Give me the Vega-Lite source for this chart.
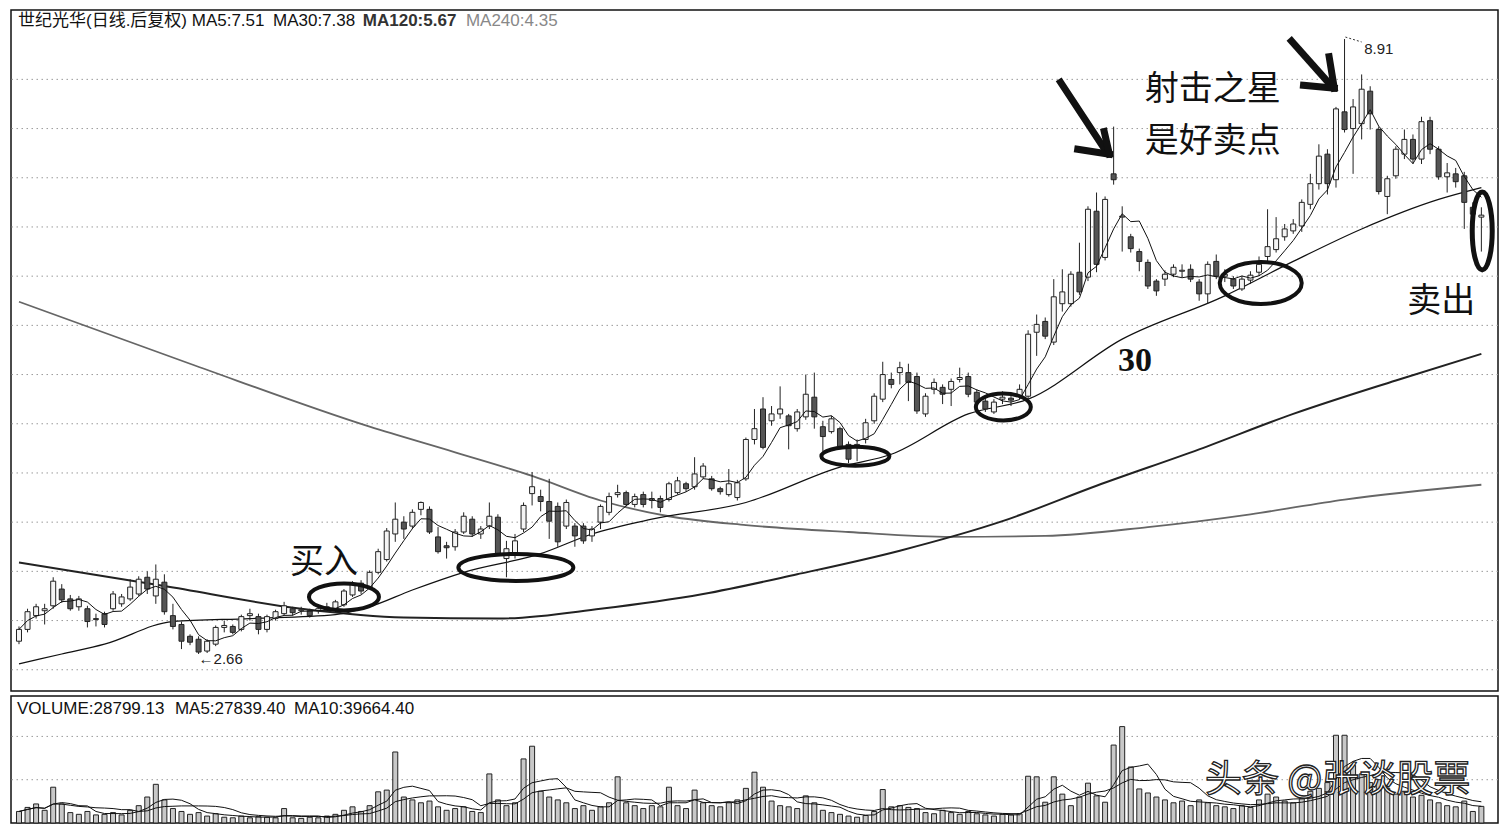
{
  "$schema": "https://vega.github.io/schema/vega-lite/v6.json",
  "background": "#ffffff",
  "padding": {"left": 9, "top": 9, "right": 5, "bottom": 2},
  "spacing": 3,
  "config": {
    "view": {"stroke": "#111", "strokeWidth": 1.5},
    "axis": {"disable": true}
  },
  "datasets": {
    "candles": [
      {"i":0,"o":2.79,"h":2.94,"l":2.76,"c":2.91,"v":20000},
      {"i":1,"o":2.91,"h":3.12,"l":2.88,"c":3.09,"v":27000},
      {"i":2,"o":3.05,"h":3.17,"l":3.02,"c":3.14,"v":33000},
      {"i":3,"o":3.10,"h":3.17,"l":2.96,"c":3.12,"v":22000},
      {"i":4,"o":3.15,"h":3.44,"l":3.12,"c":3.40,"v":62000},
      {"i":5,"o":3.32,"h":3.37,"l":3.18,"c":3.21,"v":33000},
      {"i":6,"o":3.22,"h":3.26,"l":3.10,"c":3.12,"v":18000},
      {"i":7,"o":3.14,"h":3.25,"l":3.10,"c":3.22,"v":15000},
      {"i":8,"o":3.12,"h":3.15,"l":2.93,"c":2.99,"v":20000},
      {"i":9,"o":3.01,"h":3.07,"l":2.94,"c":3.02,"v":14000},
      {"i":10,"o":3.07,"h":3.09,"l":2.93,"c":2.96,"v":15000},
      {"i":11,"o":3.12,"h":3.30,"l":3.10,"c":3.27,"v":18000},
      {"i":12,"o":3.17,"h":3.27,"l":3.14,"c":3.24,"v":14000},
      {"i":13,"o":3.22,"h":3.42,"l":3.20,"c":3.34,"v":22000},
      {"i":14,"o":3.27,"h":3.45,"l":3.25,"c":3.42,"v":30000},
      {"i":15,"o":3.44,"h":3.50,"l":3.27,"c":3.32,"v":45000},
      {"i":16,"o":3.25,"h":3.57,"l":3.17,"c":3.42,"v":67000},
      {"i":17,"o":3.39,"h":3.47,"l":3.06,"c":3.09,"v":40000},
      {"i":18,"o":3.05,"h":3.17,"l":2.91,"c":2.94,"v":25000},
      {"i":19,"o":2.96,"h":2.99,"l":2.71,"c":2.79,"v":20000},
      {"i":20,"o":2.84,"h":2.86,"l":2.75,"c":2.78,"v":15000},
      {"i":21,"o":2.81,"h":2.84,"l":2.66,"c":2.68,"v":18000},
      {"i":22,"o":2.69,"h":2.81,"l":2.67,"c":2.79,"v":12000},
      {"i":23,"o":2.76,"h":2.95,"l":2.74,"c":2.93,"v":16000},
      {"i":24,"o":2.93,"h":3.00,"l":2.88,"c":2.95,"v":10000},
      {"i":25,"o":2.94,"h":2.96,"l":2.86,"c":2.88,"v":9000},
      {"i":26,"o":2.91,"h":3.06,"l":2.89,"c":3.04,"v":12000},
      {"i":27,"o":3.05,"h":3.12,"l":3.00,"c":3.07,"v":9000},
      {"i":28,"o":3.04,"h":3.07,"l":2.86,"c":2.91,"v":11000},
      {"i":29,"o":2.91,"h":3.06,"l":2.88,"c":3.04,"v":10000},
      {"i":30,"o":3.02,"h":3.11,"l":3.00,"c":3.09,"v":9000},
      {"i":31,"o":3.07,"h":3.19,"l":3.05,"c":3.15,"v":25000},
      {"i":32,"o":3.12,"h":3.14,"l":3.05,"c":3.08,"v":9000},
      {"i":33,"o":3.10,"h":3.14,"l":3.06,"c":3.11,"v":8000},
      {"i":34,"o":3.10,"h":3.12,"l":3.03,"c":3.05,"v":10000},
      {"i":35,"o":3.10,"h":3.15,"l":3.07,"c":3.12,"v":9000},
      {"i":36,"o":3.12,"h":3.18,"l":3.10,"c":3.14,"v":12000},
      {"i":37,"o":3.10,"h":3.21,"l":3.08,"c":3.19,"v":15000},
      {"i":38,"o":3.16,"h":3.32,"l":3.14,"c":3.30,"v":22000},
      {"i":39,"o":3.26,"h":3.40,"l":3.24,"c":3.37,"v":28000},
      {"i":40,"o":3.38,"h":3.41,"l":3.27,"c":3.30,"v":20000},
      {"i":41,"o":3.34,"h":3.51,"l":3.32,"c":3.49,"v":30000},
      {"i":42,"o":3.49,"h":3.73,"l":3.47,"c":3.70,"v":54000},
      {"i":43,"o":3.62,"h":3.94,"l":3.60,"c":3.91,"v":57000},
      {"i":44,"o":3.88,"h":4.20,"l":3.80,"c":4.03,"v":123000},
      {"i":45,"o":4.00,"h":4.06,"l":3.83,"c":3.93,"v":45000},
      {"i":46,"o":3.96,"h":4.13,"l":3.93,"c":4.10,"v":40000},
      {"i":47,"o":4.13,"h":4.21,"l":4.07,"c":4.20,"v":35000},
      {"i":48,"o":4.13,"h":4.16,"l":3.88,"c":3.90,"v":38000},
      {"i":49,"o":3.85,"h":3.95,"l":3.68,"c":3.70,"v":28000},
      {"i":50,"o":3.76,"h":3.80,"l":3.63,"c":3.74,"v":22000},
      {"i":51,"o":3.75,"h":3.93,"l":3.71,"c":3.90,"v":25000},
      {"i":52,"o":3.90,"h":4.10,"l":3.88,"c":4.06,"v":28000},
      {"i":53,"o":4.03,"h":4.06,"l":3.85,"c":3.88,"v":20000},
      {"i":54,"o":3.88,"h":3.96,"l":3.83,"c":3.93,"v":18000},
      {"i":55,"o":3.96,"h":4.20,"l":3.93,"c":4.06,"v":85000},
      {"i":56,"o":4.05,"h":4.08,"l":3.66,"c":3.68,"v":40000},
      {"i":57,"o":3.63,"h":3.81,"l":3.44,"c":3.73,"v":30000},
      {"i":58,"o":3.68,"h":3.88,"l":3.63,"c":3.81,"v":35000},
      {"i":59,"o":3.93,"h":4.20,"l":3.90,"c":4.17,"v":111000},
      {"i":60,"o":4.29,"h":4.51,"l":4.17,"c":4.36,"v":133000},
      {"i":61,"o":4.26,"h":4.33,"l":4.11,"c":4.21,"v":55000},
      {"i":62,"o":4.21,"h":4.44,"l":3.83,"c":4.01,"v":45000},
      {"i":63,"o":4.16,"h":4.20,"l":3.75,"c":3.80,"v":40000},
      {"i":64,"o":3.96,"h":4.23,"l":3.93,"c":4.20,"v":35000},
      {"i":65,"o":3.96,"h":3.99,"l":3.75,"c":3.86,"v":25000},
      {"i":66,"o":3.96,"h":3.99,"l":3.78,"c":3.81,"v":30000},
      {"i":67,"o":3.86,"h":3.96,"l":3.80,"c":3.93,"v":22000},
      {"i":68,"o":4.00,"h":4.18,"l":3.93,"c":4.16,"v":28000},
      {"i":69,"o":4.10,"h":4.30,"l":4.07,"c":4.26,"v":35000},
      {"i":70,"o":4.28,"h":4.38,"l":4.25,"c":4.30,"v":80000},
      {"i":71,"o":4.30,"h":4.32,"l":4.16,"c":4.18,"v":35000},
      {"i":72,"o":4.18,"h":4.29,"l":4.15,"c":4.26,"v":30000},
      {"i":73,"o":4.28,"h":4.31,"l":4.15,"c":4.18,"v":25000},
      {"i":74,"o":4.22,"h":4.31,"l":4.14,"c":4.24,"v":30000},
      {"i":75,"o":4.24,"h":4.27,"l":4.10,"c":4.15,"v":28000},
      {"i":76,"o":4.23,"h":4.41,"l":4.21,"c":4.39,"v":62000},
      {"i":77,"o":4.30,"h":4.46,"l":4.28,"c":4.42,"v":30000},
      {"i":78,"o":4.39,"h":4.41,"l":4.31,"c":4.34,"v":25000},
      {"i":79,"o":4.36,"h":4.66,"l":4.33,"c":4.49,"v":57000},
      {"i":80,"o":4.46,"h":4.60,"l":4.44,"c":4.57,"v":35000},
      {"i":81,"o":4.44,"h":4.47,"l":4.32,"c":4.34,"v":30000},
      {"i":82,"o":4.34,"h":4.36,"l":4.28,"c":4.31,"v":28000},
      {"i":83,"o":4.28,"h":4.54,"l":4.26,"c":4.39,"v":35000},
      {"i":84,"o":4.25,"h":4.43,"l":4.22,"c":4.40,"v":40000},
      {"i":85,"o":4.44,"h":4.86,"l":4.42,"c":4.84,"v":60000},
      {"i":86,"o":4.84,"h":5.15,"l":4.79,"c":4.95,"v":88000},
      {"i":87,"o":5.15,"h":5.27,"l":4.74,"c":4.76,"v":62000},
      {"i":88,"o":5.03,"h":5.18,"l":4.98,"c":5.10,"v":38000},
      {"i":89,"o":5.10,"h":5.38,"l":5.05,"c":5.15,"v":30000},
      {"i":90,"o":5.08,"h":5.10,"l":4.74,"c":4.98,"v":28000},
      {"i":91,"o":4.95,"h":5.15,"l":4.92,"c":5.12,"v":25000},
      {"i":92,"o":5.07,"h":5.50,"l":5.04,"c":5.30,"v":47000},
      {"i":93,"o":5.27,"h":5.52,"l":4.95,"c":5.07,"v":35000},
      {"i":94,"o":4.97,"h":5.03,"l":4.72,"c":4.87,"v":22000},
      {"i":95,"o":4.92,"h":5.08,"l":4.90,"c":5.05,"v":18000},
      {"i":96,"o":4.95,"h":4.97,"l":4.75,"c":4.77,"v":15000},
      {"i":97,"o":4.79,"h":4.82,"l":4.60,"c":4.64,"v":12000},
      {"i":98,"o":4.77,"h":4.84,"l":4.62,"c":4.79,"v":10000},
      {"i":99,"o":4.84,"h":5.05,"l":4.80,"c":5.01,"v":13000},
      {"i":100,"o":5.03,"h":5.31,"l":5.00,"c":5.28,"v":20000},
      {"i":101,"o":5.25,"h":5.63,"l":5.22,"c":5.50,"v":58000},
      {"i":102,"o":5.45,"h":5.52,"l":5.36,"c":5.40,"v":28000},
      {"i":103,"o":5.52,"h":5.63,"l":5.40,"c":5.57,"v":30000},
      {"i":104,"o":5.52,"h":5.61,"l":5.23,"c":5.42,"v":27000},
      {"i":105,"o":5.48,"h":5.52,"l":5.10,"c":5.13,"v":25000},
      {"i":106,"o":5.10,"h":5.31,"l":5.07,"c":5.28,"v":18000},
      {"i":107,"o":5.35,"h":5.46,"l":5.30,"c":5.42,"v":16000},
      {"i":108,"o":5.37,"h":5.40,"l":5.20,"c":5.30,"v":22000},
      {"i":109,"o":5.35,"h":5.46,"l":5.18,"c":5.43,"v":18000},
      {"i":110,"o":5.45,"h":5.57,"l":5.42,"c":5.47,"v":15000},
      {"i":111,"o":5.48,"h":5.52,"l":5.27,"c":5.30,"v":20000},
      {"i":112,"o":5.32,"h":5.35,"l":5.20,"c":5.22,"v":16000},
      {"i":113,"o":5.23,"h":5.26,"l":5.12,"c":5.15,"v":14000},
      {"i":114,"o":5.12,"h":5.25,"l":5.10,"c":5.22,"v":12000},
      {"i":115,"o":5.25,"h":5.33,"l":5.20,"c":5.27,"v":15000},
      {"i":116,"o":5.26,"h":5.30,"l":5.18,"c":5.24,"v":14000},
      {"i":117,"o":5.28,"h":5.40,"l":5.25,"c":5.35,"v":16000},
      {"i":118,"o":5.28,"h":5.95,"l":5.25,"c":5.91,"v":81000},
      {"i":119,"o":5.93,"h":6.11,"l":5.69,"c":6.01,"v":80000},
      {"i":120,"o":6.04,"h":6.08,"l":5.86,"c":5.89,"v":36000},
      {"i":121,"o":5.83,"h":6.47,"l":5.80,"c":6.29,"v":80000},
      {"i":122,"o":6.22,"h":6.57,"l":6.14,"c":6.34,"v":50000},
      {"i":123,"o":6.22,"h":6.55,"l":6.19,"c":6.52,"v":30000},
      {"i":124,"o":6.54,"h":6.84,"l":6.31,"c":6.34,"v":45000},
      {"i":125,"o":6.49,"h":7.21,"l":6.45,"c":7.18,"v":69000},
      {"i":126,"o":7.16,"h":7.35,"l":6.54,"c":6.62,"v":47000},
      {"i":127,"o":6.69,"h":7.31,"l":6.66,"c":7.28,"v":36000},
      {"i":128,"o":7.54,"h":8.02,"l":7.43,"c":7.48,"v":135000},
      {"i":129,"o":7.10,"h":7.21,"l":6.75,"c":7.11,"v":167000},
      {"i":130,"o":6.90,"h":6.93,"l":6.74,"c":6.78,"v":97000},
      {"i":131,"o":6.75,"h":6.78,"l":6.55,"c":6.65,"v":59000},
      {"i":132,"o":6.64,"h":6.67,"l":6.37,"c":6.40,"v":52000},
      {"i":133,"o":6.45,"h":6.47,"l":6.30,"c":6.35,"v":45000},
      {"i":134,"o":6.47,"h":6.56,"l":6.40,"c":6.52,"v":40000},
      {"i":135,"o":6.52,"h":6.62,"l":6.49,"c":6.59,"v":35000},
      {"i":136,"o":6.55,"h":6.62,"l":6.49,"c":6.56,"v":38000},
      {"i":137,"o":6.57,"h":6.62,"l":6.44,"c":6.47,"v":30000},
      {"i":138,"o":6.44,"h":6.47,"l":6.25,"c":6.32,"v":40000},
      {"i":139,"o":6.32,"h":6.65,"l":6.22,"c":6.62,"v":35000},
      {"i":140,"o":6.65,"h":6.72,"l":6.47,"c":6.50,"v":30000},
      {"i":141,"o":6.50,"h":6.57,"l":6.44,"c":6.52,"v":28000},
      {"i":142,"o":6.47,"h":6.50,"l":6.37,"c":6.40,"v":25000},
      {"i":143,"o":6.37,"h":6.50,"l":6.35,"c":6.47,"v":30000},
      {"i":144,"o":6.46,"h":6.55,"l":6.42,"c":6.51,"v":27000},
      {"i":145,"o":6.54,"h":6.70,"l":6.50,"c":6.62,"v":40000},
      {"i":146,"o":6.70,"h":7.18,"l":6.65,"c":6.80,"v":50000},
      {"i":147,"o":6.77,"h":7.10,"l":6.74,"c":6.88,"v":45000},
      {"i":148,"o":6.90,"h":7.03,"l":6.86,"c":6.98,"v":38000},
      {"i":149,"o":6.96,"h":7.08,"l":6.93,"c":7.03,"v":35000},
      {"i":150,"o":7.01,"h":7.28,"l":6.95,"c":7.25,"v":42000},
      {"i":151,"o":7.23,"h":7.54,"l":7.18,"c":7.44,"v":55000},
      {"i":152,"o":7.44,"h":7.84,"l":7.38,"c":7.72,"v":60000},
      {"i":153,"o":7.74,"h":7.79,"l":7.33,"c":7.44,"v":70000},
      {"i":154,"o":7.48,"h":8.22,"l":7.40,"c":8.20,"v":152000},
      {"i":155,"o":8.17,"h":8.91,"l":7.96,"c":7.99,"v":152000},
      {"i":156,"o":8.00,"h":8.30,"l":7.54,"c":8.22,"v":100000},
      {"i":157,"o":8.05,"h":8.55,"l":7.89,"c":8.40,"v":85000},
      {"i":158,"o":8.38,"h":8.43,"l":7.99,"c":8.15,"v":70000},
      {"i":159,"o":7.99,"h":8.02,"l":7.33,"c":7.36,"v":75000},
      {"i":160,"o":7.31,"h":7.52,"l":7.13,"c":7.49,"v":60000},
      {"i":161,"o":7.52,"h":7.82,"l":7.49,"c":7.79,"v":50000},
      {"i":162,"o":7.74,"h":7.99,"l":7.69,"c":7.89,"v":55000},
      {"i":163,"o":7.89,"h":7.94,"l":7.64,"c":7.69,"v":45000},
      {"i":164,"o":7.69,"h":8.12,"l":7.64,"c":8.07,"v":48000},
      {"i":165,"o":8.08,"h":8.12,"l":7.74,"c":7.79,"v":40000},
      {"i":166,"o":7.79,"h":7.82,"l":7.48,"c":7.51,"v":35000},
      {"i":167,"o":7.51,"h":7.65,"l":7.35,"c":7.55,"v":30000},
      {"i":168,"o":7.54,"h":7.60,"l":7.40,"c":7.46,"v":28000},
      {"i":169,"o":7.52,"h":7.56,"l":6.98,"c":7.25,"v":38000},
      {"i":170,"o":7.20,"h":7.25,"l":6.90,"c":7.13,"v":20000},
      {"i":171,"o":7.10,"h":7.20,"l":6.75,"c":7.12,"v":28799}
    ],
    "ma": [
      {"line":"MA30","i":0,"p":2.56},{"line":"MA30","i":5,"p":2.66},{"line":"MA30","i":10,"p":2.76},{"line":"MA30","i":18,"p":2.99},
      {"line":"MA30","i":27,"p":3.02},{"line":"MA30","i":37,"p":3.06},{"line":"MA30","i":41,"p":3.14},{"line":"MA30","i":46,"p":3.31},
      {"line":"MA30","i":52,"p":3.49},{"line":"MA30","i":61,"p":3.68},{"line":"MA30","i":67,"p":3.88},{"line":"MA30","i":74,"p":4.03},
      {"line":"MA30","i":85,"p":4.20},{"line":"MA30","i":96,"p":4.56},{"line":"MA30","i":102,"p":4.69},{"line":"MA30","i":111,"p":5.10},
      {"line":"MA30","i":118,"p":5.25},{"line":"MA30","i":129,"p":5.86},{"line":"MA30","i":141,"p":6.30},{"line":"MA30","i":149,"p":6.65},
      {"line":"MA30","i":157,"p":6.98},{"line":"MA30","i":166,"p":7.28},{"line":"MA30","i":171,"p":7.40},
      {"line":"MA120","i":0,"p":3.59},{"line":"MA120","i":17,"p":3.35},{"line":"MA120","i":33,"p":3.12},{"line":"MA120","i":45,"p":3.03},
      {"line":"MA120","i":56,"p":3.02},{"line":"MA120","i":68,"p":3.12},{"line":"MA120","i":80,"p":3.27},{"line":"MA120","i":91,"p":3.47},
      {"line":"MA120","i":103,"p":3.71},{"line":"MA120","i":115,"p":4.01},{"line":"MA120","i":126,"p":4.37},{"line":"MA120","i":138,"p":4.74},
      {"line":"MA120","i":149,"p":5.10},{"line":"MA120","i":161,"p":5.44},{"line":"MA120","i":171,"p":5.71},
      {"line":"MA240","i":0,"p":6.24},{"line":"MA240","i":20,"p":5.61},{"line":"MA240","i":41,"p":4.97},{"line":"MA240","i":51,"p":4.71},
      {"line":"MA240","i":60,"p":4.47},{"line":"MA240","i":68,"p":4.22},{"line":"MA240","i":76,"p":4.06},{"line":"MA240","i":85,"p":3.97},
      {"line":"MA240","i":97,"p":3.90},{"line":"MA240","i":109,"p":3.85},{"line":"MA240","i":120,"p":3.86},{"line":"MA240","i":132,"p":3.95},
      {"line":"MA240","i":144,"p":4.08},{"line":"MA240","i":155,"p":4.23},{"line":"MA240","i":171,"p":4.38}
    ],
    "arrows": [
      {"i":121.8,"p":8.47,"i2":127.1,"p2":7.77},
      {"i":123.8,"p":7.79,"i2":127.5,"p2":7.74},
      {"i":126.9,"p":7.97,"i2":127.5,"p2":7.74},
      {"i":148.8,"p":8.89,"i2":153.5,"p2":8.43},
      {"i":150.2,"p":8.44,"i2":153.8,"p2":8.41},
      {"i":153.2,"p":8.73,"i2":153.8,"p2":8.41}
    ]
  },
  "vconcat": [
    {
      "width": 1487,
      "height": 681,
      "layer": [
        {
          "data": {"values": [{"p":2.5},{"p":3.0},{"p":3.5},{"p":4.0},{"p":4.5},{"p":5.0},{"p":5.5},{"p":6.0},{"p":6.5},{"p":7.0},{"p":7.5},{"p":8.0},{"p":8.5}]},
          "mark": {"type": "rule", "color": "#9a9a9a", "strokeWidth": 1, "strokeDash": [1.5, 3.5]},
          "encoding": {
            "y": {"field": "p", "type": "quantitative", "scale": {"domain": [2.284, 9.205], "nice": false, "zero": false}}
          }
        },
        {
          "data": {"name": "ma"},
          "transform": [{"filter": "datum.line == 'MA240'"}],
          "mark": {"type": "line", "color": "#666", "strokeWidth": 1.8, "interpolate": "monotone"},
          "encoding": {
            "x": {"field": "i", "type": "quantitative", "scale": {"domain": [-0.35, 172.36], "nice": false, "zero": false}},
            "y": {"field": "p", "type": "quantitative", "scale": {"domain": [2.284, 9.205], "nice": false, "zero": false}}
          }
        },
        {
          "data": {"name": "ma"},
          "transform": [{"filter": "datum.line == 'MA120'"}],
          "mark": {"type": "line", "color": "#222", "strokeWidth": 2, "interpolate": "monotone"},
          "encoding": {
            "x": {"field": "i", "type": "quantitative", "scale": {"domain": [-0.35, 172.36], "nice": false, "zero": false}},
            "y": {"field": "p", "type": "quantitative", "scale": {"domain": [2.284, 9.205], "nice": false, "zero": false}}
          }
        },
        {
          "data": {"name": "ma"},
          "transform": [{"filter": "datum.line == 'MA30'"}],
          "mark": {"type": "line", "color": "#111", "strokeWidth": 1.2, "interpolate": "monotone"},
          "encoding": {
            "x": {"field": "i", "type": "quantitative", "scale": {"domain": [-0.35, 172.36], "nice": false, "zero": false}},
            "y": {"field": "p", "type": "quantitative", "scale": {"domain": [2.284, 9.205], "nice": false, "zero": false}}
          }
        },
        {
          "data": {"name": "candles"},
          "mark": {"type": "rule", "color": "#222", "strokeWidth": 1},
          "encoding": {
            "x": {"field": "i", "type": "quantitative", "scale": {"domain": [-0.35, 172.36], "nice": false, "zero": false}},
            "y": {"field": "l", "type": "quantitative", "scale": {"domain": [2.284, 9.205], "nice": false, "zero": false}},
            "y2": {"field": "h"}
          }
        },
        {
          "data": {"name": "candles"},
          "mark": {"type": "bar", "size": 5, "stroke": "#222", "strokeWidth": 1},
          "encoding": {
            "x": {"field": "i", "type": "quantitative", "scale": {"domain": [-0.35, 172.36], "nice": false, "zero": false}},
            "y": {"field": "o", "type": "quantitative", "scale": {"domain": [2.284, 9.205], "nice": false, "zero": false}},
            "y2": {"field": "c"},
            "fill": {"condition": {"test": "datum.c >= datum.o", "value": "#f4f4f4"}, "value": "#555"}
          }
        },
        {
          "data": {"name": "candles"},
          "transform": [{"window": [{"op": "mean", "field": "c", "as": "ma5"}], "frame": [-4, 0], "sort": [{"field": "i", "order": "ascending"}]}],
          "mark": {"type": "line", "color": "#111", "strokeWidth": 1},
          "encoding": {
            "x": {"field": "i", "type": "quantitative", "scale": {"domain": [-0.35, 172.36], "nice": false, "zero": false}},
            "y": {"field": "ma5", "type": "quantitative", "scale": {"domain": [2.284, 9.205], "nice": false, "zero": false}}
          }
        },
        {
          "data": {"values": [{"i": 38.0, "p": 3.24}]},
          "mark": {"type": "point", "shape": "M-1,0A1,0.386,0,1,1,1,0A1,0.386,0,1,1,-1,0Z", "size": 4900, "filled": false, "stroke": "#111", "strokeWidth": 4, "opacity": 1},
          "encoding": {
            "x": {"field": "i", "type": "quantitative", "scale": {"domain": [-0.35, 172.36], "nice": false, "zero": false}},
            "y": {"field": "p", "type": "quantitative", "scale": {"domain": [2.284, 9.205], "nice": false, "zero": false}}
          }
        },
        {
          "data": {"values": [{"i": 58.1, "p": 3.54}]},
          "mark": {"type": "point", "shape": "M-1,0A1,0.235,0,1,1,1,0A1,0.235,0,1,1,-1,0Z", "size": 13225, "filled": false, "stroke": "#111", "strokeWidth": 4, "opacity": 1},
          "encoding": {
            "x": {"field": "i", "type": "quantitative", "scale": {"domain": [-0.35, 172.36], "nice": false, "zero": false}},
            "y": {"field": "p", "type": "quantitative", "scale": {"domain": [2.284, 9.205], "nice": false, "zero": false}}
          }
        },
        {
          "data": {"values": [{"i": 97.8, "p": 4.67}]},
          "mark": {"type": "point", "shape": "M-1,0A1,0.279,0,1,1,1,0A1,0.279,0,1,1,-1,0Z", "size": 4624, "filled": false, "stroke": "#111", "strokeWidth": 4, "opacity": 1},
          "encoding": {
            "x": {"field": "i", "type": "quantitative", "scale": {"domain": [-0.35, 172.36], "nice": false, "zero": false}},
            "y": {"field": "p", "type": "quantitative", "scale": {"domain": [2.284, 9.205], "nice": false, "zero": false}}
          }
        },
        {
          "data": {"values": [{"i": 115.1, "p": 5.17}]},
          "mark": {"type": "point", "shape": "M-1,0A1,0.49,0,1,1,1,0A1,0.49,0,1,1,-1,0Z", "size": 3025, "filled": false, "stroke": "#111", "strokeWidth": 4, "opacity": 1},
          "encoding": {
            "x": {"field": "i", "type": "quantitative", "scale": {"domain": [-0.35, 172.36], "nice": false, "zero": false}},
            "y": {"field": "p", "type": "quantitative", "scale": {"domain": [2.284, 9.205], "nice": false, "zero": false}}
          }
        },
        {
          "data": {"values": [{"i": 145.2, "p": 6.43}]},
          "mark": {"type": "point", "shape": "M-1,0A1,0.512,0,1,1,1,0A1,0.512,0,1,1,-1,0Z", "size": 6724, "filled": false, "stroke": "#111", "strokeWidth": 4, "opacity": 1},
          "encoding": {
            "x": {"field": "i", "type": "quantitative", "scale": {"domain": [-0.35, 172.36], "nice": false, "zero": false}},
            "y": {"field": "p", "type": "quantitative", "scale": {"domain": [2.284, 9.205], "nice": false, "zero": false}}
          }
        },
        {
          "data": {"values": [{"i": 171.1, "p": 6.96}]},
          "mark": {"type": "point", "shape": "M-1,0A1,3.9,0,1,1,1,0A1,3.9,0,1,1,-1,0Z", "size": 400, "filled": false, "stroke": "#111", "strokeWidth": 5, "opacity": 1, "clip": true},
          "encoding": {
            "x": {"field": "i", "type": "quantitative", "scale": {"domain": [-0.35, 172.36], "nice": false, "zero": false}},
            "y": {"field": "p", "type": "quantitative", "scale": {"domain": [2.284, 9.205], "nice": false, "zero": false}}
          }
        },
        {
          "data": {"name": "arrows"},
          "mark": {"type": "rule", "color": "#111", "strokeWidth": 7, "strokeCap": "square"},
          "encoding": {
            "x": {"field": "i", "type": "quantitative", "scale": {"domain": [-0.35, 172.36], "nice": false, "zero": false}},
            "x2": {"field": "i2"},
            "y": {"field": "p", "type": "quantitative", "scale": {"domain": [2.284, 9.205], "nice": false, "zero": false}},
            "y2": {"field": "p2"}
          }
        },
        {
          "data": {"values": [{"i": 155.1, "p": 8.93, "i2": 157.0, "p2": 8.88}]},
          "mark": {"type": "rule", "color": "#333", "strokeWidth": 1, "strokeDash": [2, 2]},
          "encoding": {
            "x": {"field": "i", "type": "quantitative", "scale": {"domain": [-0.35, 172.36], "nice": false, "zero": false}},
            "x2": {"field": "i2"},
            "y": {"field": "p", "type": "quantitative", "scale": {"domain": [2.284, 9.205], "nice": false, "zero": false}},
            "y2": {"field": "p2"}
          }
        },
        {
          "data": {"values": [
            {"i": 139.6, "p": 8.392, "t": "射击之星"},
            {"i": 139.6, "p": 7.863, "t": "是好卖点"},
            {"i": 35.66, "p": 3.585, "t": "买入"},
            {"i": 166.3, "p": 6.237, "t": "卖出"}
          ]},
          "mark": {"type": "text", "font": "Noto Sans CJK SC", "fontSize": 34, "color": "#111", "align": "center", "baseline": "middle"},
          "encoding": {
            "x": {"field": "i", "type": "quantitative", "scale": {"domain": [-0.35, 172.36], "nice": false, "zero": false}},
            "y": {"field": "p", "type": "quantitative", "scale": {"domain": [2.284, 9.205], "nice": false, "zero": false}},
            "text": {"field": "t"}
          }
        },
        {
          "data": {"values": [{"i": 130.5, "p": 5.638, "t": "30"}]},
          "mark": {"type": "text", "font": "Liberation Serif", "fontSize": 34, "fontWeight": "bold", "color": "#111", "align": "center", "baseline": "middle"},
          "encoding": {
            "x": {"field": "i", "type": "quantitative", "scale": {"domain": [-0.35, 172.36], "nice": false, "zero": false}},
            "y": {"field": "p", "type": "quantitative", "scale": {"domain": [2.284, 9.205], "nice": false, "zero": false}},
            "text": {"field": "t"}
          }
        },
        {
          "data": {"values": [
            {"i": 21.0, "p": 2.609, "t": "←2.66"},
            {"i": 157.3, "p": 8.808, "t": "8.91"}
          ]},
          "mark": {"type": "text", "font": "Liberation Sans", "fontSize": 15, "color": "#222", "align": "left", "baseline": "middle"},
          "encoding": {
            "x": {"field": "i", "type": "quantitative", "scale": {"domain": [-0.35, 172.36], "nice": false, "zero": false}},
            "y": {"field": "p", "type": "quantitative", "scale": {"domain": [2.284, 9.205], "nice": false, "zero": false}},
            "text": {"field": "t"}
          }
        },
        {
          "data": {"values": [
            {"i": -0.12, "p": 9.09, "t": "世纪光华(日线.后复权) MA5:7.51"},
            {"i": 29.7, "p": 9.09, "t": "MA30:7.38"}
          ]},
          "mark": {"type": "text", "font": "Liberation Sans, Noto Sans CJK SC", "fontSize": 17, "color": "#111", "align": "left", "baseline": "middle"},
          "encoding": {
            "x": {"field": "i", "type": "quantitative", "scale": {"domain": [-0.35, 172.36], "nice": false, "zero": false}},
            "y": {"field": "p", "type": "quantitative", "scale": {"domain": [2.284, 9.205], "nice": false, "zero": false}},
            "text": {"field": "t"}
          }
        },
        {
          "data": {"values": [{"i": 40.2, "p": 9.09, "t": "MA120:5.67"}]},
          "mark": {"type": "text", "font": "Liberation Sans", "fontSize": 17, "fontWeight": "bold", "color": "#333", "align": "left", "baseline": "middle"},
          "encoding": {
            "x": {"field": "i", "type": "quantitative", "scale": {"domain": [-0.35, 172.36], "nice": false, "zero": false}},
            "y": {"field": "p", "type": "quantitative", "scale": {"domain": [2.284, 9.205], "nice": false, "zero": false}},
            "text": {"field": "t"}
          }
        },
        {
          "data": {"values": [{"i": 52.26, "p": 9.09, "t": "MA240:4.35"}]},
          "mark": {"type": "text", "font": "Liberation Sans", "fontSize": 17, "color": "#888", "align": "left", "baseline": "middle"},
          "encoding": {
            "x": {"field": "i", "type": "quantitative", "scale": {"domain": [-0.35, 172.36], "nice": false, "zero": false}},
            "y": {"field": "p", "type": "quantitative", "scale": {"domain": [2.284, 9.205], "nice": false, "zero": false}},
            "text": {"field": "t"}
          }
        }
      ]
    },
    {
      "width": 1487,
      "height": 127,
      "layer": [
        {
          "data": {"values": [{"v": 75000}, {"v": 150000}]},
          "mark": {"type": "rule", "color": "#9a9a9a", "strokeWidth": 1, "strokeDash": [1.5, 3.5]},
          "encoding": {
            "y": {"field": "v", "type": "quantitative", "scale": {"domain": [0, 220000], "nice": false}}
          }
        },
        {
          "data": {"name": "candles"},
          "mark": {"type": "bar", "size": 5, "fill": "#c8c8c8", "stroke": "#222", "strokeWidth": 1},
          "encoding": {
            "x": {"field": "i", "type": "quantitative", "scale": {"domain": [-0.35, 172.36], "nice": false, "zero": false}},
            "y": {"field": "v", "type": "quantitative", "scale": {"domain": [0, 220000], "nice": false}}
          }
        },
        {
          "data": {"name": "candles"},
          "transform": [{"window": [{"op": "mean", "field": "v", "as": "vma5"}], "frame": [-4, 0], "sort": [{"field": "i", "order": "ascending"}]}],
          "mark": {"type": "line", "color": "#111", "strokeWidth": 1},
          "encoding": {
            "x": {"field": "i", "type": "quantitative", "scale": {"domain": [-0.35, 172.36], "nice": false, "zero": false}},
            "y": {"field": "vma5", "type": "quantitative", "scale": {"domain": [0, 220000], "nice": false}}
          }
        },
        {
          "data": {"name": "candles"},
          "transform": [{"window": [{"op": "mean", "field": "v", "as": "vma10"}], "frame": [-9, 0], "sort": [{"field": "i", "order": "ascending"}]}],
          "mark": {"type": "line", "color": "#111", "strokeWidth": 1},
          "encoding": {
            "x": {"field": "i", "type": "quantitative", "scale": {"domain": [-0.35, 172.36], "nice": false, "zero": false}},
            "y": {"field": "vma10", "type": "quantitative", "scale": {"domain": [0, 220000], "nice": false}}
          }
        },
        {
          "data": {"values": [
            {"i": -0.23, "v": 197500, "t": "VOLUME:28799.13"},
            {"i": 18.23, "v": 197500, "t": "MA5:27839.40"},
            {"i": 32.17, "v": 197500, "t": "MA10:39664.40"}
          ]},
          "mark": {"type": "text", "font": "Liberation Sans", "fontSize": 17, "color": "#111", "align": "left", "baseline": "middle"},
          "encoding": {
            "x": {"field": "i", "type": "quantitative", "scale": {"domain": [-0.35, 172.36], "nice": false, "zero": false}},
            "y": {"field": "v", "type": "quantitative", "scale": {"domain": [0, 220000], "nice": false}},
            "text": {"field": "t"}
          }
        },
        {
          "data": {"values": [{"i": 154.2, "v": 72700, "t": "头条 @张谈股票"}]},
          "mark": {"type": "text", "font": "Noto Sans CJK SC", "fontSize": 37, "fill": "#ffffff", "stroke": "#222", "strokeWidth": 1.3, "align": "center", "baseline": "middle"},
          "encoding": {
            "x": {"field": "i", "type": "quantitative", "scale": {"domain": [-0.35, 172.36], "nice": false, "zero": false}},
            "y": {"field": "v", "type": "quantitative", "scale": {"domain": [0, 220000], "nice": false}},
            "text": {"field": "t"}
          }
        }
      ]
    }
  ]
}
